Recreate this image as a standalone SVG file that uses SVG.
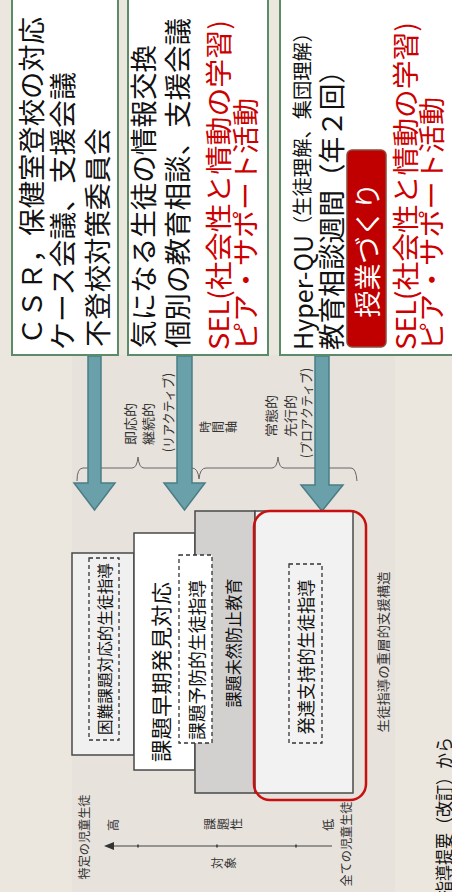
<svg xmlns="http://www.w3.org/2000/svg" width="452" height="892" viewBox="0 0 452 892">
<style>
text{font-family:"Noto Sans CJK JP","Noto Sans",sans-serif;dominant-baseline:central;fill:#111}
.big{font-size:27px}
.red{fill:#cc0000}
.wht{fill:#ffffff}
.sm{font-size:13px;fill:#333}
.lbl{font-size:12px;fill:#333}
.card{fill:#ffffff;stroke:#5a8c6a;stroke-width:2}
.arrow{fill:#69a0a9;stroke:#4b7d86;stroke-width:1.5}
.layer{stroke:#4a4a4a;stroke-width:1.5}
.dash{stroke:#333;stroke-width:1.3;stroke-dasharray:4 3}
.mid{text-anchor:middle}
</style>
<rect x="0" y="0" width="452" height="892" fill="#ebe6de"/>
<rect x="72" y="355" width="323" height="537" fill="#e7e2db"/>

<g id="connectors">
  <path d="M77,481 Q77,468 83,468 L132,468 Q137,468 138,457 Q139,468 144,468 L192,468 Q198,468 199,479 Q200,468 206,468 L272,468 Q277,468 278,457 Q279,468 284,468 L351,468 Q356,468 357,481" fill="none" stroke="#666" stroke-width="1"/>
  <polygon class="arrow" points="88,356 101,356 101,483 115,483 94.5,510 74,483 88,483"/>
  <polygon class="arrow" points="177,356 192,356 192,483 205,483 184.5,510 164,483 177,483"/>
  <polygon class="arrow" points="315,356 329,356 329,485 343,485 322,511 301,485 315,485"/>
  <line x1="112" y1="846" x2="332" y2="846" stroke="#444" stroke-width="1.2"/>
  <polygon points="104,846 114,842 114,850" fill="#333"/>
  <line x1="138" y1="844.5" x2="138" y2="847.5" stroke="#333" stroke-width="1.5"/>
  <line x1="217" y1="844.5" x2="217" y2="847.5" stroke="#333" stroke-width="1.5"/>
  <line x1="296" y1="844.5" x2="296" y2="847.5" stroke="#333" stroke-width="1.5"/>
</g>

<g id="card-csr">
  <rect class="card" x="12" y="-10" width="106" height="365"/>
  <text class="big" transform="translate(30,345) rotate(-90)" textLength="328" lengthAdjust="spacingAndGlyphs">ＣＳＲ，保健室登校の対応</text>
  <text class="big" transform="translate(61,350) rotate(-90)" textLength="278" lengthAdjust="spacingAndGlyphs">ケース会議、支援会議</text>
  <text class="big" transform="translate(96,347) rotate(-90)" textLength="219" lengthAdjust="spacingAndGlyphs">不登校対策委員会</text>
</g>

<g id="card-info">
  <rect class="card" x="128" y="-10" width="140" height="365"/>
  <text class="big" transform="translate(142,348) rotate(-90)" textLength="303" lengthAdjust="spacingAndGlyphs">気になる生徒の情報交換</text>
  <text class="big" transform="translate(176,348) rotate(-90)" textLength="330" lengthAdjust="spacingAndGlyphs">個別の教育相談、支援会議</text>
  <text class="big red" transform="translate(217,350) rotate(-90)" textLength="330" lengthAdjust="spacingAndGlyphs">SEL(社会性と情動の学習)</text>
  <text class="big red" transform="translate(244,350) rotate(-90)" textLength="252" lengthAdjust="spacingAndGlyphs">ピア・サポート活動</text>
</g>

<g id="card-hyperqu">
  <rect class="card" x="280" y="-10" width="190" height="365"/>
  <text transform="translate(301,350) rotate(-90)" textLength="327" lengthAdjust="spacingAndGlyphs"><tspan font-size="26">Hyper-QU</tspan><tspan font-size="20">（生徒理解、集団理解）</tspan></text>
  <text class="big" transform="translate(330,350) rotate(-90)" textLength="293" lengthAdjust="spacingAndGlyphs">教育相談週間（年２回）</text>
  <text class="big red" transform="translate(404,350) rotate(-90)" textLength="328" lengthAdjust="spacingAndGlyphs">SEL(社会性と情動の学習)</text>
  <text class="big red" transform="translate(430,350) rotate(-90)" textLength="253" lengthAdjust="spacingAndGlyphs">ピア・サポート活動</text>
</g>

<g id="button-jugyo">
  <rect x="347" y="150" width="39" height="197" rx="5" fill="#c00000" stroke="#8c4b3b" stroke-width="1.5"/>
  <text class="big wht mid" transform="translate(366,250) rotate(-90)">授業づくり</text>
</g>

<g id="labels-time">
  <text class="sm" transform="translate(129.5,445) rotate(-90)" textLength="42" lengthAdjust="spacingAndGlyphs">即応的</text>
  <text class="sm" transform="translate(147.5,445) rotate(-90)" textLength="42" lengthAdjust="spacingAndGlyphs">継続的</text>
  <text class="sm" transform="translate(167,452) rotate(-90)" textLength="79" lengthAdjust="spacingAndGlyphs">(リアクティブ)</text>
  <text class="lbl mid" transform="translate(204,427) rotate(-90)">時</text>
  <text class="lbl mid" transform="translate(217,427) rotate(-90)">間</text>
  <text class="lbl mid" transform="translate(230,427) rotate(-90)">軸</text>
  <text class="sm" transform="translate(270,437) rotate(-90)" textLength="42" lengthAdjust="spacingAndGlyphs">常態的</text>
  <text class="sm" transform="translate(289,437) rotate(-90)" textLength="42" lengthAdjust="spacingAndGlyphs">先行的</text>
  <text class="sm" transform="translate(305,458) rotate(-90)" textLength="90" lengthAdjust="spacingAndGlyphs">(プロアクティブ)</text>
</g>

<g id="layer-konnan">
  <rect class="layer" x="72" y="553" width="62" height="202" fill="#f0f0f0"/>
  <rect class="dash" x="89" y="558" width="30" height="182" fill="#f0f0f0"/>
  <text class="mid" font-size="15.5" transform="translate(104,649) rotate(-90)" textLength="172" lengthAdjust="spacingAndGlyphs">困難課題対応的生徒指導</text>
</g>

<g id="layer-soki">
  <rect class="layer" x="134" y="533" width="61" height="237" fill="#ffffff"/>
  <text class="mid" font-size="21" transform="translate(160,672) rotate(-90)" textLength="180" lengthAdjust="spacingAndGlyphs">課題早期発見対応</text>
</g>

<g id="layer-mizen">
  <rect class="layer" x="195" y="511" width="60" height="282" fill="#d3d0d0"/>
  <text class="mid" font-size="17" transform="translate(232,643) rotate(-90)" textLength="129" lengthAdjust="spacingAndGlyphs">課題未然防止教育</text>
</g>

<g id="layer-yobo">
  <rect class="dash" x="179" y="555" width="33" height="188" fill="#ffffff"/>
  <text class="mid" font-size="18" transform="translate(196,660) rotate(-90)" textLength="160" lengthAdjust="spacingAndGlyphs">課題予防的生徒指導</text>
</g>

<g id="layer-hattatsu">
  <rect class="layer" x="255" y="511" width="98" height="282" fill="#f2f2f2"/>
  <rect class="dash" x="289" y="564" width="33" height="179" fill="none"/>
  <text class="mid" font-size="18" transform="translate(305,657) rotate(-90)" textLength="155" lengthAdjust="spacingAndGlyphs">発達支持的生徒指導</text>
  <rect x="254" y="511" width="112" height="289" rx="16" fill="none" stroke="#c81010" stroke-width="2.5"/>
</g>

<g id="caption">
  <text class="sm mid" transform="translate(382,652) rotate(-90)" textLength="161" lengthAdjust="spacingAndGlyphs">生徒指導の重層的支援構造</text>
  <text font-size="18" transform="translate(443,897) rotate(-90)" textLength="160" lengthAdjust="spacingAndGlyphs">指導提要（改訂）から</text>
</g>

<g id="axis-labels">
  <text class="lbl mid" transform="translate(83,837) rotate(-90)" textLength="85" lengthAdjust="spacingAndGlyphs">特定の児童生徒</text>
  <text class="lbl mid" transform="translate(345,844) rotate(-90)" textLength="85" lengthAdjust="spacingAndGlyphs">全ての児童生徒</text>
  <text class="lbl mid" transform="translate(112,825) rotate(-90)">高</text>
  <text class="lbl mid" transform="translate(327,825) rotate(-90)">低</text>
  <text class="lbl mid" transform="translate(209,824) rotate(-90)">課</text>
  <text class="lbl mid" transform="translate(222,824) rotate(-90)">題</text>
  <text class="lbl mid" transform="translate(235,824) rotate(-90)">性</text>
  <text class="lbl mid" transform="translate(216,863) rotate(-90)">対</text>
  <text class="lbl mid" transform="translate(229,863) rotate(-90)">象</text>
</g>
</svg>
